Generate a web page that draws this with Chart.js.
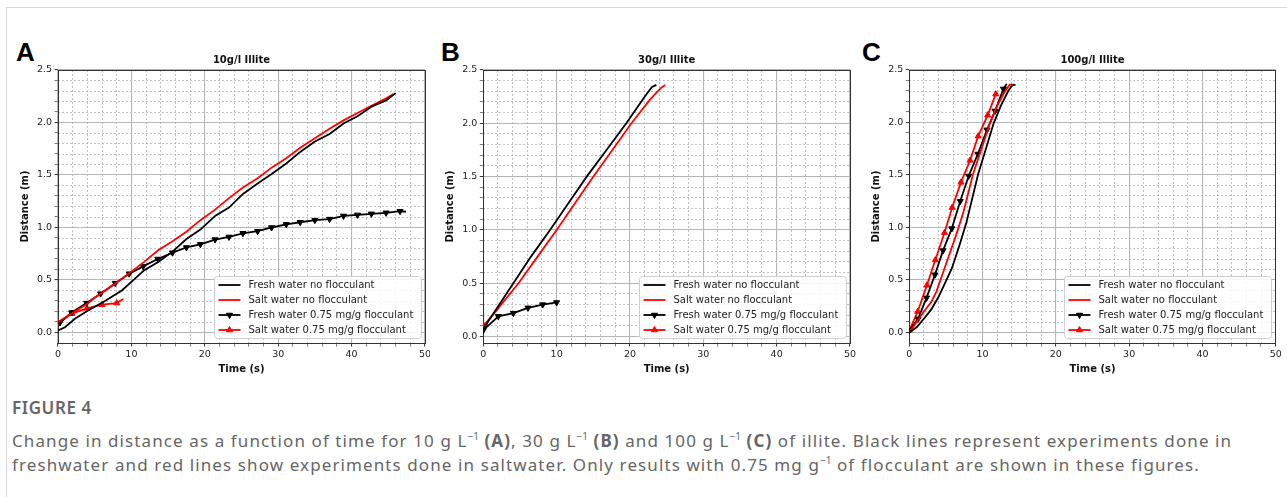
<!DOCTYPE html>
<html>
<head>
<meta charset="utf-8">
<script src="https://cdn.jsdelivr.net/npm/chart.js@4.4.1/dist/chart.umd.min.js"></script>
<style>
  body { margin: 0; background: #fff; width: 1287px; height: 497px; overflow: hidden; position: relative; font-family: "Noto Sans", sans-serif; }
  .card { position: absolute; left: 6px; top: 7px; width: 1300px; height: 500px; border-top: 1px solid #d8d8d8; border-left: 1px solid #d8d8d8; }
  .letter { position: absolute; top: 39px; font: bold 26px "Liberation Sans", Arial, sans-serif; line-height: 1; color: #000; }
  canvas { position: absolute; top: 40px; }
  .figno { position: absolute; left: 12px; top: 398px; font-size: 17px; font-weight: 600; line-height: 20px; letter-spacing: 0.6px; color: #666; }
  .caption { position: absolute; left: 12px; top: 429px; width: 1272px; font-size: 17px; line-height: 24px; letter-spacing: 1.1px; color: #666; }
  .caption sup { font-size: 10px; line-height: 0; letter-spacing: 0; }
</style>
</head>
<body>
<div class="card"></div>
<div class="letter" style="left:16px">A</div>
<div class="letter" style="left:441px">B</div>
<div class="letter" style="left:862px">C</div>
<canvas id="panelA" width="430" height="339" style="left:0"></canvas>
<canvas id="panelB" width="430" height="339" style="left:430px"></canvas>
<canvas id="panelC" width="427" height="339" style="left:860px"></canvas>
<div class="figno">FIGURE 4</div>
<div class="caption">Change in distance as a function of time for 10 g L<sup>−1</sup> <b>(A)</b>, 30 g L<sup>−1</sup> <b>(B)</b> and 100 g L<sup>−1</sup> <b>(C)</b> of illite. Black lines represent experiments done in freshwater and red lines show experiments done in saltwater. Only results with 0.75 mg g<sup>−1</sup> of flocculant are shown in these figures.</div>

<script>
// axis ticks
const timeTicks = [0, 10, 20, 30, 40, 50];
const distTicks = [0, 0.5, 1, 1.5, 2, 2.5];
const timeMinorStep = 2;
const distMinorStep = 0.1;

const seriesLabels = ['Fresh water no flocculant', 'Salt water no flocculant',
  'Fresh water 0.75 mg/g flocculant', 'Salt water 0.75 mg/g flocculant'];
const panelTitles = ['10g/l Illite', '30g/l Illite', '100g/l Illite'];

// panel A, 10 g/l  [time (s), distance (m)]
const freshA = [[0, 0.02], [0.95, 0.05], [2.3, 0.13], [4.1, 0.21], [6.4, 0.30], [8.7, 0.40], [10.9, 0.54],
  [11.7, 0.59], [13.6, 0.67], [15.6, 0.77], [17.5, 0.89], [19.4, 0.98], [21.4, 1.11], [23.3, 1.19],
  [25.2, 1.32], [27.2, 1.42], [29.1, 1.51], [31.1, 1.61], [33, 1.72], [35, 1.82], [37, 1.89],
  [38.9, 1.99], [40.8, 2.06], [42.7, 2.15], [44.7, 2.21], [46, 2.28]];
const saltA = [[0, 0.10], [2.3, 0.20], [3.9, 0.27], [5, 0.33], [7.7, 0.46], [9.8, 0.57], [11.7, 0.67],
  [13.6, 0.78], [15.6, 0.87], [17.5, 0.96], [19.4, 1.07], [21.4, 1.17], [23.3, 1.28], [25.2, 1.38],
  [27.2, 1.47], [29.1, 1.57], [31.1, 1.66], [33, 1.76], [35, 1.85], [37, 1.94], [38.9, 2.02],
  [40.8, 2.09], [42.7, 2.16], [44.7, 2.23], [45.7, 2.27]];
const freshFlocA = [[0.27, 0.095], [1.86, 0.19], [3.9, 0.28], [5.8, 0.37], [7.8, 0.47], [9.7, 0.56],
  [11.6, 0.63], [13.6, 0.70], [15.6, 0.76], [17.5, 0.81], [19.4, 0.84], [21.4, 0.885], [23.3, 0.91],
  [25.2, 0.945], [27.2, 0.965], [29.1, 1.00], [31.1, 1.03], [33, 1.05], [35, 1.07], [37, 1.08],
  [38.9, 1.11], [40.8, 1.12], [42.7, 1.13], [44.7, 1.14], [46.6, 1.155], [47.4, 1.15]];
const saltFlocA = [[0, 0.09], [1.9, 0.18], [3.95, 0.23], [6.0, 0.265], [8.0, 0.28], [8.9, 0.32]];

// panel B, 30 g/l
const freshB = [[0, 0.07], [1.4, 0.22], [4.1, 0.50], [6.5, 0.75], [9.1, 1.00], [11.6, 1.25], [14.1, 1.50],
  [16.8, 1.75], [19.5, 2.00], [22, 2.25], [23, 2.34], [23.6, 2.36]];
const saltB = [[0, 0.10], [1.5, 0.22], [4.8, 0.50], [7.4, 0.75], [10, 1.00], [12.5, 1.25], [15, 1.50],
  [17.6, 1.75], [20.2, 2.00], [22.7, 2.22], [24.2, 2.33], [24.8, 2.36]];
const freshFlocB = [[0, 0.06], [2.05, 0.19], [4.1, 0.22], [6.1, 0.27], [8.1, 0.30], [10.0, 0.32], [10.2, 0.32]];
const saltFlocB = [[0, 0.11], [0.6, 0.11]];

// panel C, 100 g/l
const freshC = [[0, 0], [1, 0.05], [2.1, 0.14], [3, 0.22], [4, 0.34], [5, 0.49], [5.8, 0.61], [6.8, 0.82],
  [7.8, 1.05], [8.6, 1.28], [9.4, 1.51], [10.5, 1.76], [11.5, 1.99], [12.5, 2.16], [13.5, 2.30],
  [14, 2.35], [14.5, 2.36]];
const saltC = [[0, 0], [1, 0.10], [2, 0.20], [3, 0.29], [3.7, 0.39], [4.5, 0.55], [5.3, 0.71], [6.4, 0.93],
  [7.4, 1.15], [8.7, 1.51], [9.9, 1.76], [11, 1.99], [12, 2.16], [13, 2.29], [13.7, 2.36], [14.3, 2.36]];
const freshFlocC = [[0, 0.02], [1.2, 0.13], [2.35, 0.33], [3.5, 0.55], [4.6, 0.78], [5.8, 0.99], [6.95, 1.25],
  [8.1, 1.49], [9.35, 1.70], [10.6, 1.93], [11.7, 2.11], [12.85, 2.32], [13.3, 2.37]];
const saltFlocC = [[0, 0.02], [1.15, 0.20], [2.4, 0.45], [3.55, 0.69], [4.8, 0.95], [5.85, 1.19], [7.05, 1.43],
  [8.3, 1.64], [9.4, 1.87], [10.7, 2.07], [11.8, 2.27], [11.95, 2.29]];

const tickFont = { family: 'DejaVu Sans', size: 9.5 };
const boldFont = { family: 'DejaVu Sans', size: 10, weight: 'bold' };
const majorGrid = '#b6b6b6';
const minorGrid = '#bababa';

function isOn(v, step) {
  return Math.abs(v / step - Math.round(v / step)) < 1e-6;
}

// minor positions between the labelled ticks
function minorPositions(major, step) {
  const out = [];
  const n = Math.round((major[major.length - 1] - major[0]) / step);
  for (let i = 0; i <= n; i++) out.push(Math.round((major[0] + i * step) * 1000) / 1000);
  return out;
}

const timeAll = minorPositions(timeTicks, timeMinorStep);
const distAll = minorPositions(distTicks, distMinorStep);
const timeMajorStep = timeTicks[1] - timeTicks[0];
const distMajorStep = distTicks[1] - distTicks[0];

// matplotlib like box around the plot
const framePlugin = {
  id: 'frame',
  beforeDatasetsDraw(chart) {
    const { ctx, chartArea: a } = chart;
    ctx.save();
    ctx.strokeStyle = '#333';
    ctx.lineWidth = 1;
    ctx.strokeRect(Math.round(a.left) + 0.5, Math.round(a.top) + 0.5,
      Math.round(a.right - a.left), Math.round(a.bottom - a.top));
    ctx.restore();
  }
};

// legend box in the lower right corner of the plot
const boxLegend = {
  id: 'boxLegend',
  afterDraw(chart) {
    const { ctx, chartArea: a } = chart;
    const w = 207, h = 62;
    const x0 = Math.round(a.right - 4.5 - w) + 0.5;
    const y0 = Math.round(a.bottom - 5.5 - h) + 0.5;
    ctx.save();
    ctx.fillStyle = 'rgba(255,255,255,0.85)';
    ctx.strokeStyle = '#cfcfcf';
    ctx.lineWidth = 1;
    ctx.beginPath();
    ctx.roundRect(x0, y0, w, h, 3);
    ctx.fill();
    ctx.stroke();
    ctx.font = '10px "DejaVu Sans"';
    ctx.textBaseline = 'middle';
    chart.data.datasets.forEach((ds, i) => {
      const y = y0 + 8.5 + i * 15;
      ctx.strokeStyle = ds.borderColor;
      ctx.lineWidth = ds.borderWidth;
      ctx.beginPath();
      ctx.moveTo(x0 + 4, y);
      ctx.lineTo(x0 + 26, y);
      ctx.stroke();
      if (ds.markerRadius) {
        ctx.fillStyle = ds.borderColor;
        ctx.lineWidth = 1;
        Chart.helpers.drawPoint(ctx, { pointStyle: 'triangle', rotation: ds.pointRotation,
          radius: ds.markerRadius, borderWidth: 1 }, x0 + 15, y);
      }
      ctx.fillStyle = '#222';
      ctx.fillText(ds.label, x0 + 34, y);
    });
    ctx.restore();
  }
};

function makeDataset(pts, i) {
  const col = (i % 2 === 0) ? '#000000' : '#ff0000';
  const flocc = i >= 2;
  return {
    label: seriesLabels[i],
    data: pts,
    borderColor: col,
    backgroundColor: col,
    borderWidth: 1.8,
    tension: 0,
    fill: false,
    pointStyle: 'triangle',
    pointRotation: i === 2 ? 180 : 0,
    pointBackgroundColor: col,
    pointBorderColor: col,
    pointBorderWidth: 1,
    // the last point of a flocculant run is just the end of the line
    pointRadius: flocc ? (c => c.dataIndex === pts.length - 1 ? 0 : 3.5) : 0,
    markerRadius: flocc ? 3.5 : 0
  };
}

function makePanel(p) {
  new Chart(document.getElementById(p.id), {
    type: 'line',
    data: { datasets: p.series.map(makeDataset) },
    options: {
      responsive: false,
      animation: false,
      devicePixelRatio: 1,
      events: [],
      layout: { padding: { left: p.padL, right: p.padR, top: 0, bottom: 0 } },
      plugins: {
        legend: { display: false },
        tooltip: { enabled: false },
        title: { display: true, text: p.title, fullSize: false, font: boldFont, color: '#111',
          padding: { top: 14.7, bottom: 3.3 } }
      },
      scales: {
        x: {
          type: 'linear', position: 'bottom', min: timeTicks[0], max: timeTicks[timeTicks.length - 1], bounds: 'data',
          afterBuildTicks: s => { s.ticks = timeAll.map(v => ({ value: v })); },
          afterFit: s => { s.height = 36; s.paddingLeft = 0; s.paddingRight = 0; },
          ticks: { autoSkip: false, maxRotation: 0, minRotation: 0, padding: 2, font: tickFont, color: '#222',
            callback: v => isOn(v, timeMajorStep) ? String(v) : '' },
          grid: { color: c => isOn(c.tick.value, timeMajorStep) ? majorGrid : 'rgba(0,0,0,0)', lineWidth: 1.1,
            drawTicks: true, tickLength: 3.5, tickWidth: 1,
            tickColor: c => isOn(c.tick.value, timeMajorStep) ? '#333' : '#777' },
          border: { display: false },
          title: { display: true, text: 'Time (s)', font: boldFont, color: '#111', padding: { top: 0, bottom: 4 } }
        },
        xm: {
          type: 'linear', position: 'bottom', weight: 1, min: timeTicks[0], max: timeTicks[timeTicks.length - 1], bounds: 'data',
          afterBuildTicks: s => { s.ticks = timeAll.filter(v => !isOn(v, timeMajorStep)).map(v => ({ value: v })); },
          afterFit: s => { s.height = 0; },
          ticks: { display: false },
          grid: { color: minorGrid, lineWidth: 0.9, drawTicks: false },
          border: { display: false, dash: [2, 2] }
        },
        y: {
          type: 'linear', position: 'left', min: p.yMin, max: distTicks[distTicks.length - 1], bounds: 'data',
          afterBuildTicks: s => { s.ticks = distAll.map(v => ({ value: v })); },
          afterFit: s => { s.width = 46; s.paddingTop = 0; s.paddingBottom = 0; },
          ticks: { autoSkip: false, padding: 2.5, font: tickFont, color: '#222',
            callback: v => isOn(v, distMajorStep) ? v.toFixed(1) : '' },
          grid: { color: c => isOn(c.tick.value, distMajorStep) ? majorGrid : 'rgba(0,0,0,0)', lineWidth: 1.1,
            drawTicks: true, tickLength: 3.5, tickWidth: 1,
            tickColor: c => isOn(c.tick.value, distMajorStep) ? '#333' : '#777' },
          border: { display: false },
          title: { display: true, text: 'Distance (m)', font: boldFont, color: '#111', padding: { top: p.yTitlePad, bottom: 0 } }
        },
        ym: {
          type: 'linear', position: 'left', weight: 1, min: p.yMin, max: distTicks[distTicks.length - 1], bounds: 'data',
          afterBuildTicks: s => { s.ticks = distAll.filter(v => !isOn(v, distMajorStep)).map(v => ({ value: v })); },
          afterFit: s => { s.width = 0; },
          ticks: { display: false },
          grid: { color: minorGrid, lineWidth: 0.9, drawTicks: false },
          border: { display: false, dash: [2, 2] }
        }
      }
    },
    plugins: [framePlugin, boxLegend]
  });
}

makePanel({ id: 'panelA', title: panelTitles[0], yMin: -0.1, padL: 12, padR: 5, yTitlePad: 7,
  series: [freshA, saltA, freshFlocA, saltFlocA] });
makePanel({ id: 'panelB', title: panelTitles[1], yMin: -0.06, padL: 7.3, padR: 10, yTitlePad: 7.2,
  series: [freshB, saltB, freshFlocB, saltFlocB] });
makePanel({ id: 'panelC', title: panelTitles[2], yMin: -0.1, padL: 3.3, padR: 11.3, yTitlePad: 6.9,
  series: [freshC, saltC, freshFlocC, saltFlocC] });
</script>
</body>
</html>
